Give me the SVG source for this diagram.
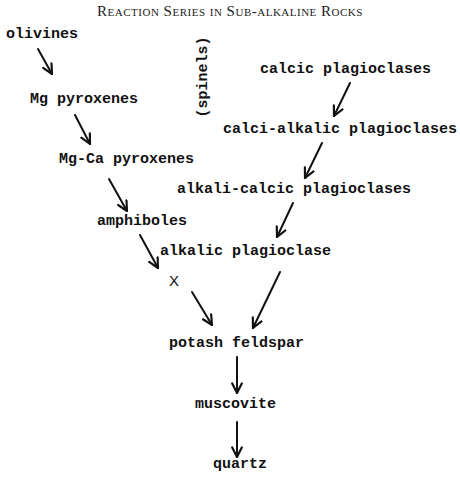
<svg xmlns="http://www.w3.org/2000/svg" width="460" height="480" viewBox="0 0 460 480">
<style>
.t{font-family:"Liberation Mono","DejaVu Sans Mono",monospace;font-weight:bold;font-size:15px;fill:#111}
.title{font-family:"Liberation Serif","DejaVu Serif",serif;font-variant:small-caps;font-size:15px;fill:#222;letter-spacing:0.5px}
.x{font-family:"Liberation Sans","DejaVu Sans",sans-serif;font-size:15px;fill:#111}
.c line{stroke:#111;stroke-width:2;stroke-linecap:round;marker-end:url(#ah)}
</style>
<defs>
<marker id="ah" viewBox="0 0 10 10" refX="9" refY="5" markerWidth="12" markerHeight="12" markerUnits="userSpaceOnUse" orient="auto">
<path d="M1,1 L9,5 L1,9" fill="none" stroke="#111" stroke-width="1.8" stroke-linecap="round" stroke-linejoin="round"/>
</marker>
</defs>
<rect width="460" height="480" fill="#fff"/>
<text class="title" x="230" y="16" text-anchor="middle">Reaction Series in Sub-alkaline Rocks</text>
<g id="olivines"><text class="t" x="6" y="38">olivines</text></g>
<g id="mg-pyroxenes"><text class="t" x="30" y="103">Mg pyroxenes</text></g>
<g id="spinels"><text class="t" transform="translate(207,77) rotate(-90)" text-anchor="middle">(spinels)</text></g>
<g id="calcic-plagioclases"><text class="t" x="260" y="73">calcic plagioclases</text></g>
<g id="calci-alkalic-plagioclases"><text class="t" x="223" y="133">calci-alkalic plagioclases</text></g>
<g id="mg-ca-pyroxenes"><text class="t" x="59" y="163">Mg-Ca pyroxenes</text></g>
<g id="alkali-calcic-plagioclases"><text class="t" x="177" y="193">alkali-calcic plagioclases</text></g>
<g id="amphiboles"><text class="t" x="97" y="225">amphiboles</text></g>
<g id="alkalic-plagioclase"><text class="t" x="160" y="255">alkalic plagioclase</text></g>
<g id="x"><text class="x" x="169" y="286">X</text></g>
<g id="potash-feldspar"><text class="t" x="169" y="347">potash feldspar</text></g>
<g id="muscovite"><text class="t" x="195" y="408">muscovite</text></g>
<g id="quartz"><text class="t" x="213" y="468">quartz</text></g>
<g id="connectors" class="c">
<line x1="38" y1="49" x2="52" y2="74"/>
<line x1="75" y1="115" x2="90" y2="144"/>
<line x1="109" y1="179" x2="127" y2="211"/>
<line x1="140" y1="235" x2="158" y2="268"/>
<line x1="350" y1="83" x2="334" y2="116"/>
<line x1="322" y1="143" x2="305" y2="178"/>
<line x1="293" y1="203" x2="277" y2="237"/>
<line x1="192" y1="292" x2="212" y2="325"/>
<line x1="280" y1="272" x2="253" y2="328"/>
<line x1="237" y1="357" x2="237" y2="393"/>
<line x1="237" y1="422" x2="237" y2="457"/>
</g>
</svg>
